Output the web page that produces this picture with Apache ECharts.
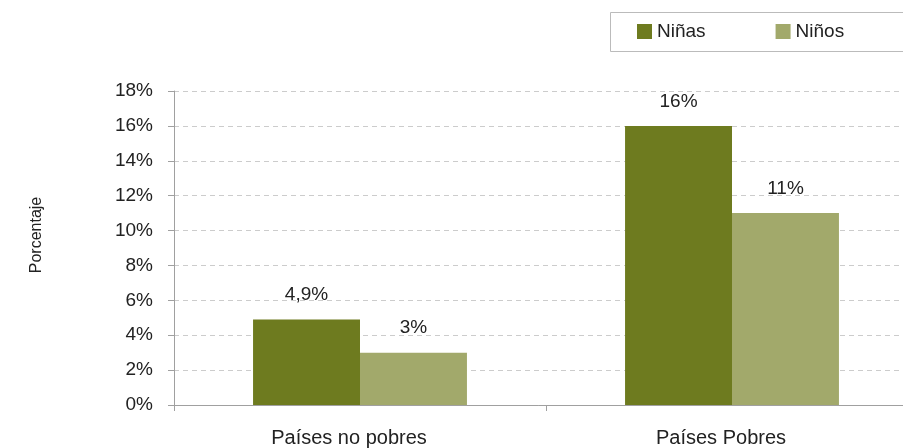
<!DOCTYPE html>
<html>
<head>
<meta charset="utf-8">
<script src="https://cdn.jsdelivr.net/npm/echarts@6/dist/echarts.min.js"></script>
<style>
  html, body { margin: 0; padding: 0; background: #fff; }
  #chart { width: 903px; height: 448px; }
</style>
</head>
<body>
<div id="chart"></div>
<script>
// datos
var categories = ["Países no pobres", "Países Pobres"];
var seriesNames = ["Niñas", "Niños"];
var ninas = [4.9, 16];
var ninos = [3, 11];
var yTicks = { min: 0, max: 18, interval: 2 };

var colors = ["#6e7b1f", "#a2a96b"];
var font = "Liberation Sans, Arial, sans-serif";

function pct(v) {
  return String(v).replace(".", ",") + "%";
}

var chart = echarts.init(document.getElementById("chart"));

function barLabel() {
  return {
    show: true,
    position: "top",
    distance: 15,
    fontSize: 19,
    color: "#222",
    fontFamily: font,
    formatter: function (p) { return pct(p.value); }
  };
}

var option = {
  animation: false,
  color: colors,
  textStyle: { fontFamily: font },
  // marco de la leyenda (sale por la derecha del lienzo)
  graphic: [{
    type: "rect",
    left: 610,
    top: 12,
    shape: { width: 320, height: 39 },
    style: { fill: "#fff", stroke: "#bbbbbb", lineWidth: 1 },
    z: 0
  }],
  legend: {
    data: seriesNames,
    orient: "horizontal",
    left: 637,
    top: 22,
    padding: 0,
    icon: "rect",
    itemWidth: 15,
    itemHeight: 15,
    itemGap: 70,
    z: 10,
    textStyle: { fontSize: 19, color: "#222", fontFamily: font }
  },
  grid: {
    left: 174,
    top: 91,
    width: 744,
    bottom: 43,
    outerBoundsMode: "none"
  },
  xAxis: {
    type: "category",
    data: categories,
    axisLine: { lineStyle: { color: "#a0a0a0" } },
    axisTick: { show: true, length: 6, lineStyle: { color: "#a0a0a0" } },
    axisLabel: {
      margin: 23,
      fontSize: 20,
      color: "#222",
      fontFamily: font,
      padding: [0, 22, 0, 0]
    }
  },
  yAxis: {
    type: "value",
    min: yTicks.min,
    max: yTicks.max,
    interval: yTicks.interval,
    name: "Porcentaje",
    nameLocation: "middle",
    nameRotate: 90,
    nameGap: 129,
    nameTextStyle: { fontSize: 16, color: "#222", fontFamily: font, padding: [0, 0, 0, 26] },
    axisLine: { show: true, lineStyle: { color: "#a0a0a0" } },
    axisTick: { show: true, length: 6, lineStyle: { color: "#a0a0a0" } },
    axisLabel: {
      margin: 21,
      fontSize: 19,
      color: "#222",
      fontFamily: font,
      formatter: "{value}%"
    },
    splitLine: { lineStyle: { color: "#cccccc", type: [5, 4] } }
  },
  series: [
    {
      name: seriesNames[0],
      type: "bar",
      data: ninas,
      barGap: "0%",
      barCategoryGap: "42.5%",
      label: barLabel()
    },
    {
      name: seriesNames[1],
      type: "bar",
      data: ninos,
      barGap: "0%",
      barCategoryGap: "42.5%",
      label: barLabel()
    }
  ]
};

chart.setOption(option);
</script>
</body>
</html>
